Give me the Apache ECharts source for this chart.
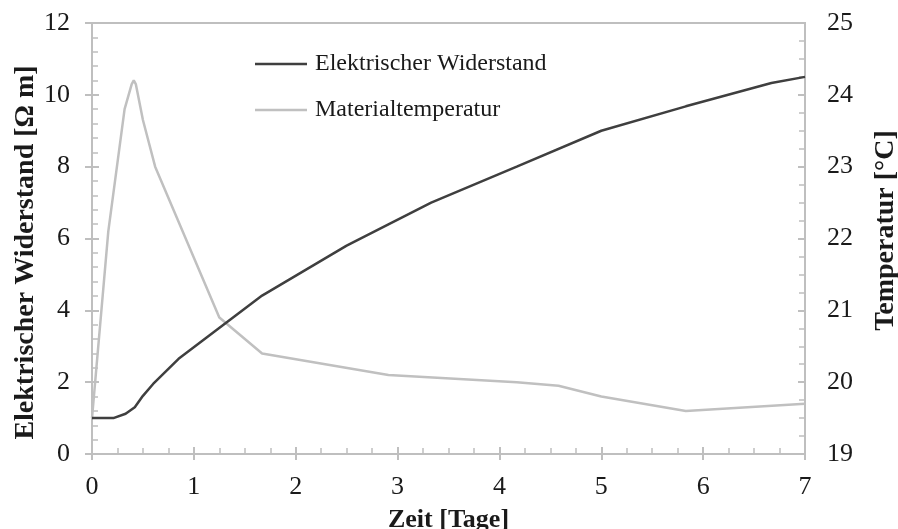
<!DOCTYPE html>
<html>
<head>
<meta charset="utf-8">
<script src="https://cdn.jsdelivr.net/npm/echarts@6/dist/echarts.min.js"></script>
<style>
  html, body { margin: 0; padding: 0; background: #ffffff; }
  #chart { width: 898px; height: 529px; }
</style>
</head>
<body>
<div id="chart"></div>
<script>
// Elektrischer Widerstand [Ω m] over time [days]
const resTime   = [0, 0.21, 0.33, 0.42, 0.5, 0.6, 0.85, 1.67, 2.5, 3.33, 4.17, 5, 5.83, 6.67, 7];
const resValues = [1.0, 1.0, 1.12, 1.3, 1.62, 1.95, 2.65, 4.41, 5.8, 7.0, 8.0, 9.0, 9.68, 10.33, 10.5];

// Materialtemperatur [°C] over time [days]
const tempTime   = [0, 0.16, 0.32, 0.39, 0.41, 0.43, 0.5, 0.62, 1.25, 1.67, 2.91, 4.17, 4.58, 5, 5.83, 7];
const tempValues = [19.5, 22.1, 23.8, 24.15, 24.2, 24.15, 23.65, 23.0, 20.9, 20.4, 20.1, 20.0, 19.95, 19.8, 19.6, 19.7];

const seriesNames = ['Elektrischer Widerstand', 'Materialtemperatur'];
const xTitle = 'Zeit [Tage]';
const yLeftTitle = 'Elektrischer Widerstand [Ω m]';
const yRightTitle = 'Temperatur [°C]';

const FONT = 'Liberation Serif';
const AXIS_GREY = '#bfbfbf';
const TEXT = '#1a1a1a';

const toPairs = (xs, ys) => xs.map((x, i) => [x, ys[i]]);

const labelStyle = { fontFamily: FONT, fontSize: 26, color: TEXT };
const titleStyle = (size, padding) => ({
  fontFamily: FONT, fontSize: size, fontWeight: 'bold', color: TEXT, padding: padding
});

// main axes carry the line, labels and the outward half of the major ticks;
// overlay axes add the inward half plus the minor ticks
function xMain() {
  return {
    type: 'value', min: 0, max: 7, interval: 1, position: 'bottom',
    axisLine: { show: true, lineStyle: { color: AXIS_GREY, width: 2 } },
    axisTick: { show: true, inside: false, length: 6, lineStyle: { color: AXIS_GREY, width: 2 } },
    axisLabel: Object.assign({ margin: 20 }, labelStyle),
    splitLine: { show: false },
    name: xTitle, nameLocation: 'middle', nameGap: 53, nameTextStyle: titleStyle(26, [0, 0, 0, 0])
  };
}
function xOverlay() {
  return {
    type: 'value', min: 0, max: 7, interval: 1, position: 'bottom',
    axisLine: { show: false },
    axisTick: { show: true, inside: true, length: 7, lineStyle: { color: AXIS_GREY, width: 2 } },
    minorTick: { show: true, splitNumber: 4, length: 6, lineStyle: { color: AXIS_GREY, width: 1.5 } },
    axisLabel: { show: false }, splitLine: { show: false }
  };
}
function yMain(pos, min, max, interval, title, margin, gap, padding) {
  return {
    type: 'value', position: pos, min: min, max: max, interval: interval,
    axisLine: { show: true, lineStyle: { color: AXIS_GREY, width: 2 } },
    axisTick: { show: true, inside: false, length: 7, lineStyle: { color: AXIS_GREY, width: 2 } },
    axisLabel: Object.assign({ margin: margin }, labelStyle),
    splitLine: { show: false },
    name: title, nameLocation: 'middle', nameGap: gap, nameRotate: 90,
    nameMoveOverlap: false,
    nameTextStyle: titleStyle(28, padding)
  };
}
function yOverlay(pos, min, max, interval, minorSplit) {
  return {
    type: 'value', position: pos, min: min, max: max, interval: interval,
    axisLine: { show: false },
    axisTick: { show: true, inside: true, length: 7, lineStyle: { color: AXIS_GREY, width: 2 } },
    minorTick: { show: true, splitNumber: minorSplit, length: 6, lineStyle: { color: AXIS_GREY, width: 1.5 } },
    axisLabel: { show: false }, splitLine: { show: false }
  };
}

const chart = echarts.init(document.getElementById('chart'), null, { renderer: 'canvas' });
chart.setOption({
  animation: false,
  backgroundColor: '#ffffff',
  grid: {
    left: 92, right: 93, top: 23, bottom: 75,
    outerBoundsMode: 'none', containLabel: false,
    show: true, borderColor: AXIS_GREY, borderWidth: 2
  },
  legend: {
    orient: 'vertical', left: 250, top: 47,
    icon: 'rect', itemWidth: 52, itemHeight: 2.5, itemGap: 22,
    textStyle: { fontFamily: FONT, fontSize: 24, lineHeight: 24, color: TEXT, padding: [0, 0, 0, 3] },
    data: seriesNames
  },
  xAxis: [xMain(), xOverlay()],
  yAxis: [
    yMain('left', 0, 12, 2, yLeftTitle, 22, 52, [0, 28, 0, 0]),
    yMain('right', 19, 25, 1, yRightTitle, 22, 67, [0, 0, 0, 16]),
    yOverlay('left', 0, 12, 2, 5),
    yOverlay('right', 19, 25, 1, 4)
  ],
  series: [
    {
      name: seriesNames[0], type: 'line', xAxisIndex: 0, yAxisIndex: 0,
      data: toPairs(resTime, resValues), showSymbol: false, symbol: 'none',
      lineStyle: { color: '#3f3f3f', width: 2.5 }, itemStyle: { color: '#3f3f3f' }, z: 3
    },
    {
      name: seriesNames[1], type: 'line', xAxisIndex: 0, yAxisIndex: 1,
      data: toPairs(tempTime, tempValues), showSymbol: false, symbol: 'none',
      lineStyle: { color: '#c0c0c0', width: 2.5 }, itemStyle: { color: '#c0c0c0' }, z: 2
    }
  ]
});
</script>
</body>
</html>
